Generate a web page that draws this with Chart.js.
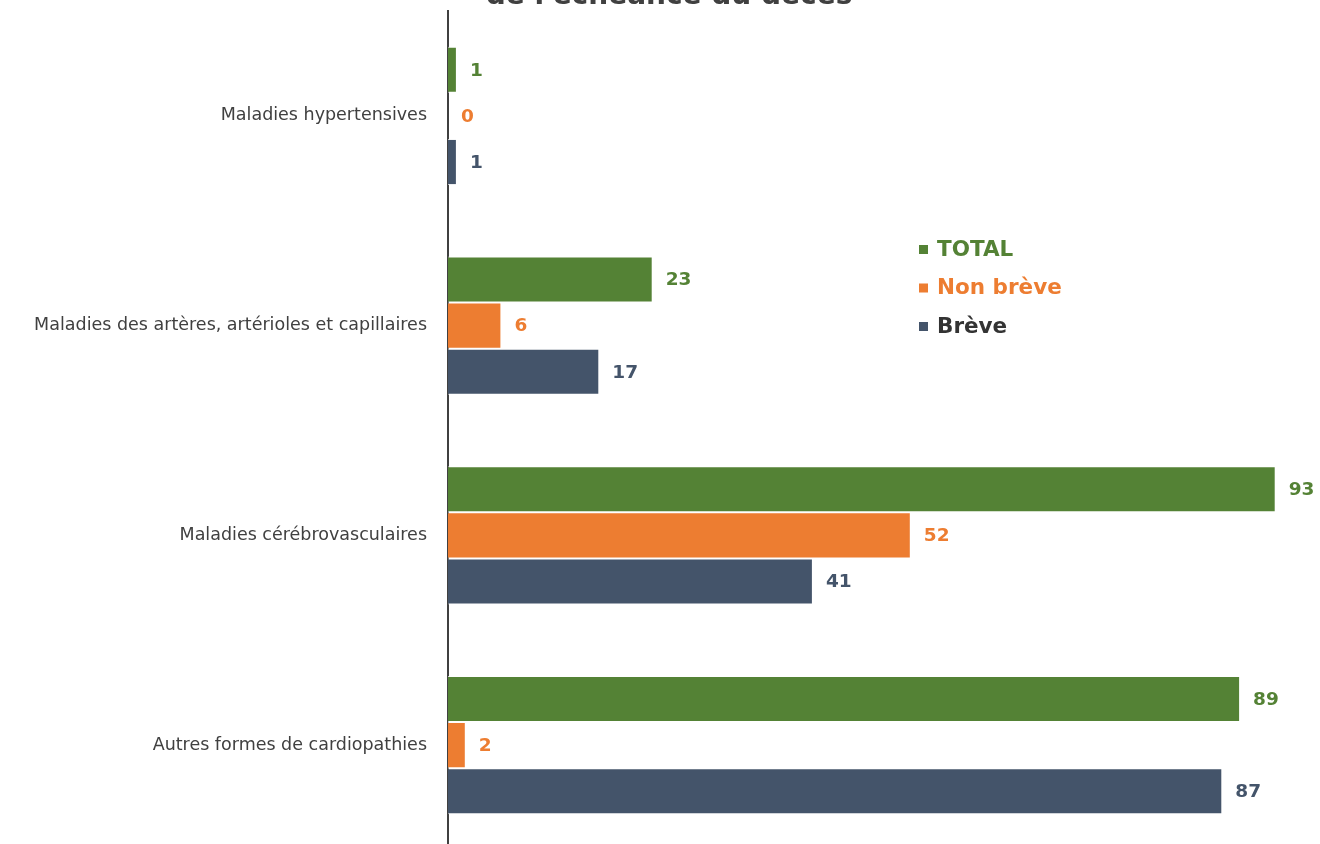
<!DOCTYPE html>
<html lang="fr">
<head>
<meta charset="utf-8">
<script src="https://cdn.jsdelivr.net/npm/chart.js@4.4.1/dist/chart.umd.min.js"></script>
<style>
    html, body { margin: 0; padding: 0; background: #fff; overflow: hidden; width: 1320px; height: 844px; }
    #chart { position: absolute; left: 0; top: -27px; }
</style>
</head>
<body>
<canvas id="chart" width="1350" height="879"></canvas>
<script>
const categories = [
    'Maladies hypertensives',
    'Maladies des artères, artérioles et capillaires',
    'Maladies cérébrovasculaires',
    'Autres formes de cardiopathies'
];
const seriesNames = ['TOTAL', 'Non brève', 'Brève'];
const totalValues = [1, 23, 93, 89];
const nonBreveValues = [0, 6, 52, 2];
const breveValues = [1, 17, 41, 87];
const seriesColors = ['#548235', '#ED7D31', '#44546A'];
const legendTextColors = ['#548235', '#ED7D31', '#333333'];

const FONT = '"DejaVu Sans", Verdana, sans-serif';

// value labels at the end of each bar
const valueLabels = {
    id: 'valueLabels',
    afterDatasetsDraw(chart) {
        const ctx = chart.ctx;
        ctx.save();
        ctx.font = 'bold 18.5px ' + FONT;
        ctx.textAlign = 'left';
        ctx.textBaseline = 'middle';
        chart.data.datasets.forEach((ds, i) => {
            const meta = chart.getDatasetMeta(i);
            ctx.fillStyle = ds.backgroundColor;
            meta.data.forEach((bar, j) => {
                ctx.fillText(String(ds.data[j]), bar.x + 13, bar.y + 1);
            });
        });
        ctx.restore();
    }
};

// legend block drawn inside the plot
const sideLegend = {
    id: 'sideLegend',
    afterDraw(chart) {
        const ctx = chart.ctx;
        const x = 919, y0 = 276, step = 38.5;
        ctx.save();
        ctx.font = 'bold 21.5px ' + FONT;
        ctx.textAlign = 'left';
        ctx.textBaseline = 'middle';
        chart.data.datasets.forEach((ds, i) => {
            const y = y0 + i * step;
            ctx.fillStyle = ds.backgroundColor;
            ctx.fillRect(x, y - 4, 9, 9);
            ctx.fillStyle = legendTextColors[i];
            ctx.fillText(ds.label, x + 18, y + 1);
        });
        ctx.restore();
    }
};

new Chart(document.getElementById('chart'), {
    type: 'bar',
    data: {
        labels: categories,
        datasets: [
            { label: seriesNames[0], data: totalValues, backgroundColor: seriesColors[0] },
            { label: seriesNames[1], data: nonBreveValues, backgroundColor: seriesColors[1] },
            { label: seriesNames[2], data: breveValues, backgroundColor: seriesColors[2] }
        ]
    },
    options: {
        indexAxis: 'y',
        responsive: false,
        animation: false,
        layout: { padding: { left: 0, right: 12, top: 0, bottom: 2 } },
        datasets: {
            bar: {
                barPercentage: 1,
                categoryPercentage: 0.66,
                borderWidth: 1,
                borderColor: 'rgba(255,255,255,0.7)'
            }
        },
        scales: {
            x: {
                display: false,
                min: 0,
                max: 100
            },
            y: {
                grid: { display: false, drawTicks: false },
                border: { display: true, color: '#404040', width: 2 },
                ticks: {
                    color: '#404040',
                    font: { family: FONT, size: 17.5 },
                    padding: 21
                },
                afterFit(scale) {
                    // fixed axis width, and no extra room reserved for the end labels
                    scale.width = 448;
                    scale.paddingTop = 0;
                    scale.paddingBottom = 0;
                }
            }
        },
        plugins: {
            legend: { display: false },
            tooltip: { enabled: false },
            title: {
                display: true,
                text: "de l'échéance du décès",
                color: '#404040',
                font: { family: FONT, size: 28, weight: 'bold', lineHeight: 1 },
                padding: { top: 10, bottom: 0 }
            }
        }
    },
    plugins: [valueLabels, sideLegend]
});
</script>
</body>
</html>
